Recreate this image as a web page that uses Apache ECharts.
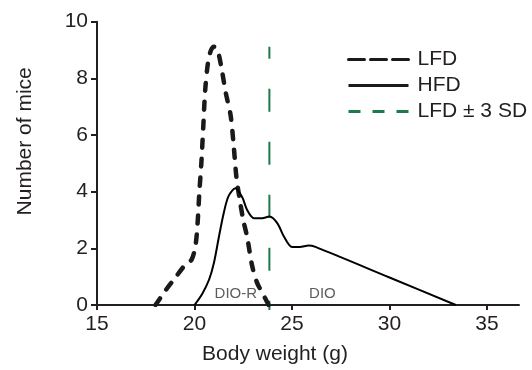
<!DOCTYPE html>
<html>
<head>
<meta charset="utf-8">
<script src="https://cdn.jsdelivr.net/npm/echarts@6/dist/echarts.min.js"></script>
<style>
html,body{margin:0;padding:0;background:#fff;}
#chart{width:532px;height:370px;}
</style>
</head>
<body>
<div id="chart"></div>
<script>
// Body weight (g) vs number of mice
var lfdX = [18, 18.5, 19, 19.5, 19.85, 20.05, 20.15, 20.25, 20.35, 20.45, 20.55, 20.7, 20.85, 21.0, 21.2, 21.4, 21.6, 21.85, 22.0, 22.15, 22.3, 22.5, 22.7, 22.95, 23.2, 23.5, 23.8];
var lfdY = [0, 0.5, 0.95, 1.4, 1.6, 2.1, 2.8, 4.0, 5.0, 6.3, 7.6, 8.6, 9.0, 9.12, 8.95, 8.3, 7.5, 6.7, 5.7, 4.5, 3.8, 3.0, 2.4, 1.4, 0.8, 0.4, 0];
var hfdX = [20, 20.4, 20.75, 21, 21.25, 21.5, 21.75, 22.1, 22.45, 22.7, 23.05, 23.4, 23.85, 24.25, 24.6, 25.0, 25.4, 25.85, 26.2, 30.0, 33.4];
var hfdY = [0, 0.4, 0.9, 1.5, 2.4, 3.25, 3.85, 4.12, 3.8, 3.35, 3.06, 3.06, 3.12, 2.88, 2.4, 2.05, 2.05, 2.1, 2.05, 0.97, 0];
var sdX = [23.84, 23.84];
var sdY = [9.12, -0.18];
var xTicks = [15, 20, 25, 30, 35];
var yTicks = [0, 2, 4, 6, 8, 10];
var annotations = [['DIO-R', 22.12, 0.41], ['DIO', 26.56, 0.39]];

function pairs(xs, ys){ return xs.map(function(x,i){ return [x, ys[i]]; }); }

var FONT = '"Liberation Sans", Arial, Helvetica, sans-serif';
var TXT = '#231f20';
var GREEN = '#1d7a4a';
var HIDE = {opacity: 0};

var chart = echarts.init(document.getElementById('chart'), null, {renderer:'canvas'});
chart.setOption({
  animation: false,
  backgroundColor: '#ffffff',
  textStyle: {fontFamily: FONT},
  grid: {left: 97, right: 13, top: 21.7, bottom: 65, containLabel: false},
  legend: {
    orient: 'vertical',
    left: 342,
    top: 44,
    itemWidth: 60,
    itemHeight: 14,
    itemGap: 5,
    selectedMode: false,
    textStyle: {fontFamily: FONT, fontSize: 21, color: TXT, padding: [0, 0, 0, 4]},
    data: [
      {name: 'LFD', itemStyle: HIDE, lineStyle: {width: 3, type: [16, 6], dashOffset: 0, color: '#1a1a1a'}},
      {name: 'HFD', itemStyle: HIDE, lineStyle: {width: 3, type: 'solid', color: '#1a1a1a'}},
      {name: 'LFD ± 3 SD', itemStyle: HIDE, lineStyle: {width: 3, type: [12, 12], dashOffset: 0, color: GREEN}}
    ]
  },
  xAxis: {
    type: 'value',
    min: 15, max: 36.64,
    interval: 5,
    name: 'Body weight (g)',
    nameLocation: 'middle',
    nameGap: 39,
    nameTextStyle: {fontFamily: FONT, fontSize: 21, color: TXT, padding: [0, 66, 0, 0]},
    axisLine: {show: true, lineStyle: {color: TXT, width: 2}},
    axisTick: {show: true, length: 5, lineStyle: {color: TXT, width: 2}, customValues: xTicks},
    axisLabel: {fontFamily: FONT, fontSize: 21, color: TXT, margin: 9, customValues: xTicks},
    splitLine: {show: false}
  },
  yAxis: {
    type: 'value',
    min: 0, max: 10,
    interval: 2,
    name: 'Number of mice',
    nameLocation: 'middle',
    nameGap: 61,
    nameTextStyle: {fontFamily: FONT, fontSize: 21, color: TXT, padding: [0, 0, 0, 44]},
    axisLine: {show: true, lineStyle: {color: TXT, width: 2}},
    axisTick: {show: true, length: 6, lineStyle: {color: TXT, width: 2}, customValues: yTicks},
    axisLabel: {fontFamily: FONT, fontSize: 21, color: TXT, margin: 9, customValues: yTicks},
    splitLine: {show: false}
  },
  series: [
    {
      name: 'LFD', type: 'line', data: pairs(lfdX, lfdY),
      symbol: 'none', smooth: 0.3, z: 3,
      lineStyle: {color: '#1a1a1a', width: 4.5, type: [8, 11], cap: 'round'}
    },
    {
      name: 'HFD', type: 'line', data: pairs(hfdX, hfdY),
      symbol: 'none', smooth: 0.3, z: 4,
      lineStyle: {color: '#000000', width: 2}
    },
    {
      name: 'LFD ± 3 SD', type: 'line', data: pairs(sdX, sdY),
      symbol: 'none', clip: false, z: 2,
      lineStyle: {color: GREEN, width: 2, type: [23, 30], dashOffset: 11}
    },
    {
      name: 'labels', type: 'scatter', symbolSize: 0, silent: true, z: 5,
      data: annotations.map(function(a){ return {name: a[0], value: [a[1], a[2]]}; }),
      label: {show: true, position: 'inside', formatter: '{b}', fontFamily: FONT, fontSize: 15, color: '#333333'}
    }
  ]
});
</script>
</body>
</html>
